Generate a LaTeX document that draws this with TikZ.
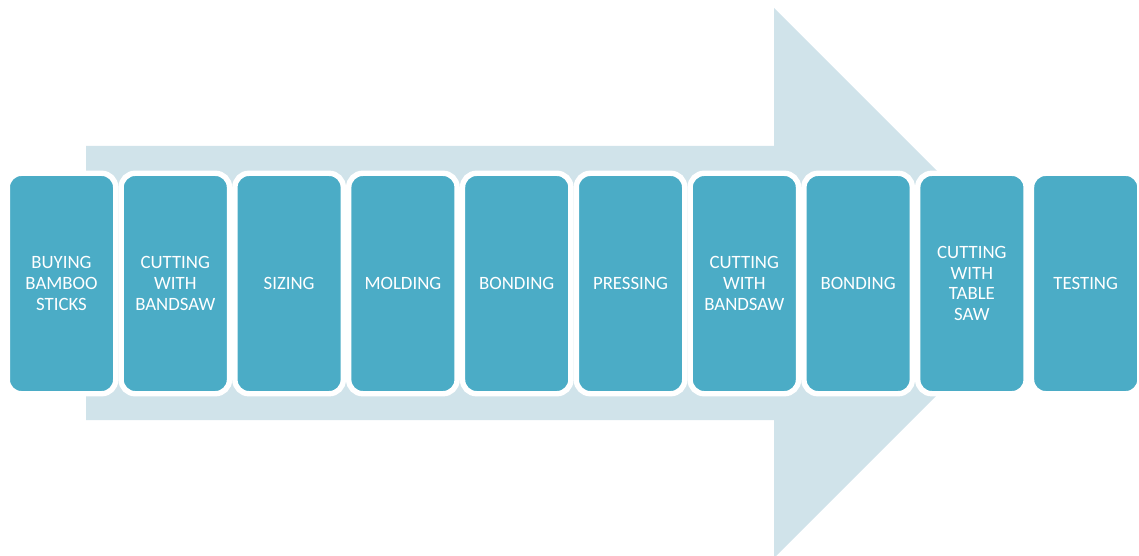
\documentclass[tikz,border=0pt]{standalone}
\usepackage{fontspec}
\setmainfont{Carlito}
\usepackage{xcolor}
\usetikzlibrary{positioning, calc}

\definecolor{stepblue}{HTML}{4BACC6}
\definecolor{arrowpale}{HTML}{D0E3EA}

\begin{document}
\begin{tikzpicture}[
    x=1pt, y=-1pt,
    every node/.style={font=\fontsize{18.8}{20.7}\selectfont},
    stepbox/.style={
        rectangle,
        fill=stepblue,
        draw=white,
        line width=5.4pt,
        rounded corners=14pt,
        minimum width=108.4pt,
        minimum height=220.4pt,
        text width=98pt,
        inner sep=0pt,
        outer sep=0pt,
        text=white,
        align=center
    }
]

\useasboundingbox (0,0) rectangle (1139,556);

% Fleche de fond
\fill[arrowpale]
    (86,146) -- (774,146) -- (774,8) -- (1049,283)
    -- (774,558) -- (774,420) -- (86,420) -- cycle;

% Etapes
\node[stepbox, anchor=west] (buy) at (7.3,283.5) {BUYING\\BAMBOO\\STICKS};

\node[stepbox, right=5.4pt of buy] (cutband) {CUTTING\\WITH\\BANDSAW};

\node[stepbox, right=5.4pt of cutband] (sizing) {SIZING};

\node[stepbox, right=5.4pt of sizing] (molding) {MOLDING};

\node[stepbox, right=5.4pt of molding] (bondone) {BONDING};

\node[stepbox, right=5.4pt of bondone] (pressing) {PRESSING};

\node[stepbox, right=5.4pt of pressing] (cutbandtwo) {CUTTING\\WITH\\BANDSAW};

\node[stepbox, right=5.4pt of cutbandtwo] (bondtwo) {BONDING};

\node[stepbox, right=5.4pt of bondtwo] (cuttable) {CUTTING\\WITH\\TABLE\\SAW};

\node[stepbox, right=5.4pt of cuttable] (testing) {TESTING};

\end{tikzpicture}
\end{document}
